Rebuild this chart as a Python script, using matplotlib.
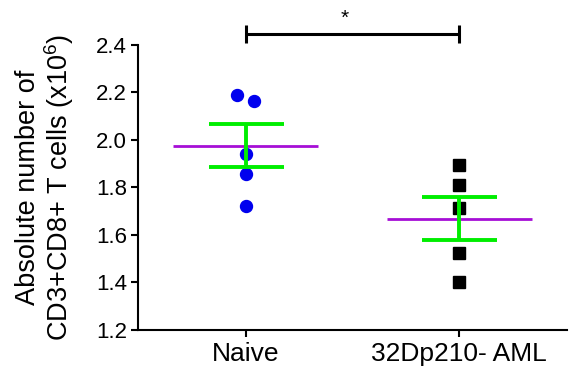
import numpy as np
import matplotlib
matplotlib.use("Agg")
import matplotlib.pyplot as plt

plt.rcParams['font.family'] = ['Liberation Sans', 'DejaVu Sans']
plt.rcParams['mathtext.default'] = 'regular'

categories = ["Naive", "32Dp210- AML"]
naive_values = [2.189, 2.166, 1.942, 1.858, 1.724]
aml_values = [1.893, 1.810, 1.714, 1.524, 1.400]
yticks = [1.2, 1.4, 1.6, 1.8, 2.0, 2.2, 2.4]
star_label = "*"

# layout-only horizontal jitter
naive_jitter = [-0.04, 0.04, 0.0, 0.0, 0.0]
aml_jitter = [0.0, 0.0, 0.0, 0.0, 0.0]

fig = plt.figure(figsize=(5.71, 3.73), dpi=100)
ax = fig.add_axes([0.2417, 0.1153, 0.7513, 0.7641])

groups = [(naive_values, naive_jitter, 'o', '#0000EE', 8.6),
          (aml_values, aml_jitter, 's', '#000000', 8.8)]
for i, (vals, jit, mk, col, ms) in enumerate(groups):
    vals = np.array(vals)
    xs = i + np.array(jit)
    ax.plot(xs, vals, linestyle='none', marker=mk, color=col, markersize=ms, zorder=2)
    m = vals.mean()
    sem = vals.std(ddof=1) / np.sqrt(len(vals))
    ax.plot([i - 0.34, i + 0.34], [m, m], color='#A60ED6', lw=2.0, zorder=3, solid_capstyle='butt')
    ax.errorbar([i], [m], yerr=[sem], color='#00EE00', lw=2.8, capsize=27, capthick=2.8, zorder=4)

ax.set_xlim(-0.505, 1.506)
ax.set_ylim(1.2, 2.4)
ax.set_xticks([0, 1])
ax.set_xticklabels(categories)
ax.set_yticks(yticks)
ax.set_yticklabels([f"{t:.1f}" for t in yticks])
for s in ['top', 'right']:
    ax.spines[s].set_visible(False)
for s in ['left', 'bottom']:
    ax.spines[s].set_linewidth(1.5)
ax.tick_params(axis='both', width=1.5, length=5, colors='black', pad=3)
ax.tick_params(axis='y', labelsize=16)
ax.tick_params(axis='x', labelsize=19, pad=4)
ax.set_ylabel("Absolute number of\nCD3+CD8+ T cells (x10$^{6}$)", fontsize=19.5, labelpad=14, linespacing=1.05)

# significance bracket
yb = 2.446
ax.plot([0, 1], [yb, yb], color='black', lw=2.2, clip_on=False, solid_capstyle='butt')
for xb in [0, 1]:
    ax.plot([xb, xb], [yb - 0.037, yb + 0.037], color='black', lw=2.2, clip_on=False, solid_capstyle='butt')
ax.text(0.465, yb + 0.025, star_label, ha='center', va='bottom', fontsize=15, clip_on=False)

fig.savefig("out.png", dpi=100)
